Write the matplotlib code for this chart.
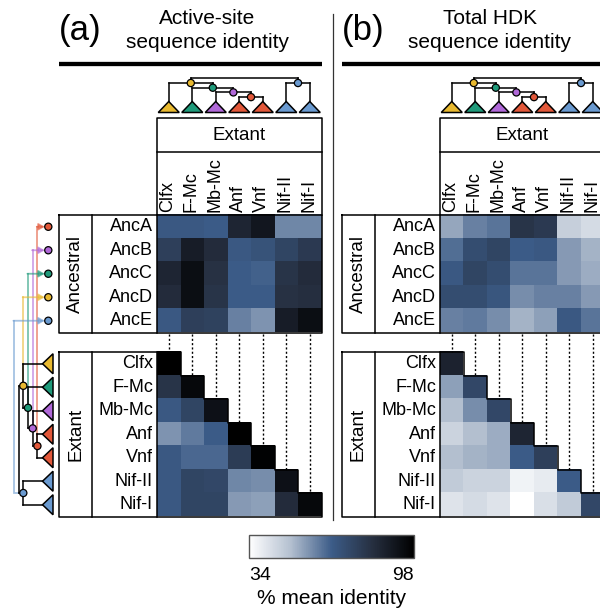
import numpy as np
import matplotlib
matplotlib.use("Agg")
import matplotlib.pyplot as plt
from matplotlib.colors import LinearSegmentedColormap, Normalize
from matplotlib.cm import ScalarMappable
from matplotlib.patches import Polygon, Circle

plt.rcParams["font.family"] = ["Liberation Sans", "DejaVu Sans"]

# ---------------- data ----------------
groups = ["Clfx", "F-Mc", "Mb-Mc", "Anf", "Vnf", "Nif-II", "Nif-I"]
ancestors = ["AncA", "AncB", "AncC", "AncD", "AncE"]

active_anc = [
    [67, 67, 66, 85, 90, 59, 59],
    [76, 88, 83, 67, 69, 74, 78],
    [85, 93, 81, 66, 65, 80, 83],
    [83, 93, 80, 66, 66, 81, 82],
    [67, 76, 75, 60, 57, 88, 93],
]
active_ext = [
    [98],
    [80, 95],
    [67, 74, 92],
    [57, 61, 66, 98],
    [67, 64, 64, 77, 97],
    [67, 74, 73, 59, 58, 92],
    [67, 74, 74, 56, 55, 83, 95],
]
total_anc = [
    [54, 60, 62, 80, 78, 46, 43],
    [63, 71, 74, 66, 67, 56, 52],
    [67, 74, 71, 62, 62, 56, 53],
    [71, 71, 68, 58, 60, 60, 56],
    [60, 61, 58, 52, 55, 67, 62],
]
total_ext = [
    [86],
    [55, 73],
    [50, 58, 73],
    [45, 50, 53, 85],
    [50, 52, 53, 66, 76],
    [47, 45, 45, 37, 39, 66],
    [41, 43, 41, 34, 42, 47, 73],
]
vmin, vmax = 34, 98

# clade colours
YEL, TEA, PUR, RED, BLU = "#e8b930", "#1f9a7a", "#b068d8", "#e2583a", "#6a9ad0"
leaf_colors = [YEL, TEA, PUR, RED, RED, BLU, BLU]
# internal nodes: children, colour, level   ((Clfx,(F-Mc,(Mb-Mc,(Anf,Vnf)))),(Nif-II,Nif-I))
tree = {
    "root": ([ "yel", "blu"], None, 0),
    "yel": ([0, "tea"], YEL, 1),
    "tea": ([1, "pur"], TEA, 2),
    "pur": ([2, "red"], PUR, 3),
    "red": ([3, 4], RED, 4),
    "blu": ([5, 6], BLU, 1),
}
anc_nodes = ["red", "pur", "tea", "yel", "blu"]   # AncA..AncE

cmap = LinearSegmentedColormap.from_list(
    "ident", [(0, "#ffffff"), (0.25, "#b4c0d0"), (0.5, "#3c5c88"),
              (0.75, "#262f40"), (1, "#000000")])

# ---------------- layout (pixels) ----------------
CW = 23.5
HX = 157          # heatmap left
BOX_L, BOX_D = 59, 92
HEAD_T, HEAD_D = 118, 152
ANC_T = 215
EXT_T = 352
STEP = 4.7
LW = 1.1

fig = plt.figure(figsize=(6, 6.13), dpi=100)
ax = fig.add_axes([0, 0, 1, 1])
ax.set_xlim(0, 600)
ax.set_ylim(613, 0)
ax.axis("off")


def along(n, leaf_along):
    if isinstance(n, int):
        return leaf_along[n]
    kids = tree[n][0]
    return sum(along(k, leaf_along) for k in kids) / len(kids)


def draw_tree(leaf_along, root_c, apex, base, half, vertical):
    """vertical=True: root on top, leaves below; otherwise root on the left"""
    xy = (lambda a, d: (a, d)) if vertical else (lambda a, d: (d, a))

    def depth(n):
        return apex if isinstance(n, int) else root_c + STEP * tree[n][2]

    for n, (kids, col, lv) in tree.items():
        d = depth(n)
        ks = [along(k, leaf_along) for k in kids]
        p0, p1 = xy(ks[0], d), xy(ks[-1], d)
        ax.plot([p0[0], p1[0]], [p0[1], p1[1]], color="black", lw=LW, zorder=3)
        for k, ka in zip(kids, ks):
            p, q = xy(ka, d), xy(ka, depth(k))
            ax.plot([p[0], q[0]], [p[1], q[1]], color="black", lw=LW, zorder=3)
        if col is not None:
            ax.add_patch(Circle(xy(along(n, leaf_along), d), 3.6, facecolor=col,
                                edgecolor="black", lw=0.9, zorder=5))
    for i, a in enumerate(leaf_along):
        pts = [xy(a, apex), xy(a - half, base), xy(a + half, base)]
        ax.add_patch(Polygon(pts, closed=True, facecolor=leaf_colors[i],
                             edgecolor="black", lw=LW, zorder=4))


def draw_panel(dx, label, title, anc, ext):
    hx = HX + dx
    right = hx + CW * len(groups)
    anc_b = ANC_T + CW * len(ancestors)
    ext_b = EXT_T + CW * len(groups)

    # titles
    ax.text(BOX_L + dx, 40, label, fontsize=25, ha="left", va="baseline")
    ax.text(207 + dx, 24, title[0], fontsize=15, ha="center", va="baseline")
    ax.text(207 + dx, 48, title[1], fontsize=15, ha="center", va="baseline")
    ax.plot([BOX_L + dx, right], [64, 64], color="black", lw=3.1,
            solid_capstyle="butt")

    # heatmaps
    a = np.array(anc, dtype=float)
    ax.imshow(a, cmap=cmap, vmin=vmin, vmax=vmax, interpolation="nearest",
              extent=(hx, right, anc_b, ANC_T), aspect="auto", zorder=1)
    e = np.full((len(groups), len(groups)), np.nan)
    for i, row in enumerate(ext):
        e[i, :len(row)] = row
    ax.imshow(np.ma.masked_invalid(e), cmap=cmap, vmin=vmin, vmax=vmax,
              interpolation="nearest", extent=(hx, right, ext_b, EXT_T),
              aspect="auto", zorder=1)

    # header box
    ax.plot([hx, hx, right, right], [ANC_T, HEAD_T, HEAD_T, ANC_T],
            color="black", lw=LW)
    ax.plot([hx, right], [HEAD_D, HEAD_D], color="black", lw=LW)
    ax.text((hx + right) / 2, (HEAD_T + HEAD_D) / 2 + 1, "Extant", fontsize=13.5,
            ha="center", va="center")
    for j, g in enumerate(groups):
        ax.text(hx + CW * (j + 0.5) - 1, ANC_T - 3, g, fontsize=13, rotation=90,
                rotation_mode="anchor", ha="left", va="center")

    # ancestral block
    ax.plot([BOX_L + dx, right, right, BOX_L + dx, BOX_L + dx],
            [ANC_T, ANC_T, anc_b, anc_b, ANC_T], color="black", lw=LW, zorder=6)
    for xv in (BOX_D + dx, hx):
        ax.plot([xv, xv], [ANC_T, anc_b], color="black", lw=LW, zorder=6)
    ax.text((BOX_L + BOX_D) / 2 + dx, (ANC_T + anc_b) / 2, "Ancestral", fontsize=13.5,
            rotation=90, ha="center", va="center")
    for i, n in enumerate(ancestors):
        ax.text(hx - 4, ANC_T + CW * (i + 0.5), n, fontsize=13, ha="right", va="center")

    # extant block with staircase edge
    xs = [BOX_L + dx, hx]
    ys = [EXT_T, EXT_T]
    for j in range(len(groups)):
        xs += [hx + CW * (j + 1), hx + CW * (j + 1)]
        ys += [EXT_T + CW * j, EXT_T + CW * (j + 1)]
    xs += [BOX_L + dx, BOX_L + dx]
    ys += [ext_b, EXT_T]
    ax.plot(xs, ys, color="black", lw=LW, zorder=6)
    for xv in (BOX_D + dx, hx):
        ax.plot([xv, xv], [EXT_T, ext_b], color="black", lw=LW, zorder=6)
    ax.text((BOX_L + BOX_D) / 2 + dx, (EXT_T + ext_b) / 2, "Extant", fontsize=13.5,
            rotation=90, ha="center", va="center")
    for i, n in enumerate(groups):
        ax.text(hx - 4, EXT_T + CW * (i + 0.5), n, fontsize=13, ha="right", va="center")

    # dotted guides
    for j in range(len(groups)):
        xc = hx + CW * (j + 0.5)
        ax.plot([xc, xc], [anc_b + 1, EXT_T + CW * j], color="black", lw=1.0,
                ls=(0, (1.5, 1.6)), zorder=2)

    # tree above the columns
    leaf_x = [hx + CW * (j + 0.5) for j in range(len(groups))]
    draw_tree(leaf_x, 78.3, 101.5, 112.5, 10.5, vertical=True)


draw_panel(0, "(a)", ("Active-site", "sequence identity"), active_anc, active_ext)
draw_panel(283, "(b)", ("Total HDK", "sequence identity"), total_anc, total_ext)

# separator
ax.plot([333, 333], [14, 520], color="#333333", lw=0.9)

# left tree (panel a only)
LROOT = 18.6
leaf_y = [EXT_T + CW * (i + 0.5) for i in range(len(groups))]
draw_tree(leaf_y, LROOT, 42.5, 53, 10, vertical=False)

# arrows from ancestral nodes to the ancestor rows
detour = {"blu": 14}
for i, n in enumerate(anc_nodes):
    col = tree[n][1]
    ay = along(n, leaf_y)
    nx = LROOT + STEP * tree[n][2]
    ry = ANC_T + CW * (i + 0.5)
    vx = detour.get(n, nx)
    ax.plot([nx, vx, vx], [ay, ay, ry], color=col, alpha=0.6, lw=1.3, zorder=2,
            solid_joinstyle="miter")
    ax.annotate("", xy=(44.8, ry), xytext=(vx - 0.6, ry),
                arrowprops=dict(arrowstyle="-|>,head_length=0.35,head_width=0.2",
                                color=col, alpha=0.6, lw=1.3, shrinkA=0, shrinkB=0))
    ax.add_patch(Circle((48.3, ry), 3.6, facecolor=col, edgecolor="black",
                        lw=0.9, zorder=5))

# colour bar
cax = fig.add_axes([249 / 600, 1 - 558 / 613, 165 / 600, 23 / 613])
cb = fig.colorbar(ScalarMappable(Normalize(vmin, vmax), cmap), cax=cax,
                  orientation="horizontal", ticks=[])
cb.outline.set_edgecolor("#555555")
cb.outline.set_linewidth(1.0)
ax.text(249, 576, str(vmin), fontsize=14, ha="left", va="center")
ax.text(414, 576, str(vmax), fontsize=14, ha="right", va="center")
ax.text(331.5, 598, "% mean identity", fontsize=15, ha="center", va="center")

fig.savefig("out.png", dpi=100, facecolor="white")
